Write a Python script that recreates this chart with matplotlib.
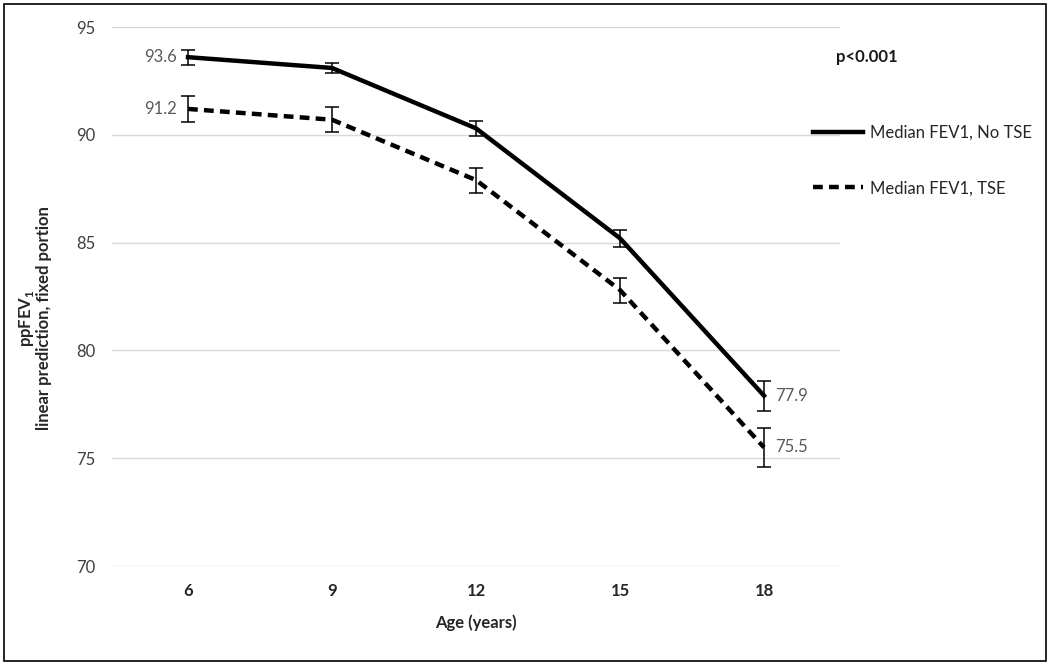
import matplotlib
matplotlib.use("Agg")
import matplotlib.pyplot as plt
from matplotlib.patches import Rectangle

ages = ["6", "9", "12", "15", "18"]
no_tse = [93.6, 93.1, 90.3, 85.2, 77.9]
no_tse_err = [0.35, 0.25, 0.35, 0.4, 0.7]
tse = [91.2, 90.7, 87.9, 82.8, 75.5]
tse_err = [0.62, 0.58, 0.58, 0.58, 0.9]
yticks = [70, 75, 80, 85, 90, 95]

plt.rcParams["font.family"] = ["Lato", "DejaVu Sans"]
plt.rcParams["mathtext.fontset"] = "custom"
plt.rcParams["mathtext.rm"] = "Lato:bold"
plt.rcParams["mathtext.bf"] = "Lato:bold"

fig = plt.figure(figsize=(10.5, 6.65), dpi=100)
ax = fig.add_axes([112 / 1050, 1 - 566 / 665, 728 / 1050, 539 / 665])
x = list(range(len(ages)))

ax.plot(x, no_tse, color="black", lw=3.2, solid_joinstyle="miter", label="Median FEV1, No TSE")
ax.plot(x, tse, color="black", lw=3.2, ls=(0, (2.2, 1.4)), label="Median FEV1, TSE")
ax.errorbar(x, no_tse, yerr=no_tse_err, fmt="none", ecolor="black", elinewidth=1.1, capsize=5, capthick=1.1)
ax.errorbar(x, tse, yerr=tse_err, fmt="none", ecolor="black", elinewidth=1.1, capsize=5, capthick=1.1)

tc = "#595959"
ax.text(x[0] - 0.08, no_tse[0], f"{no_tse[0]:.1f}", ha="right", va="center", fontsize=12, color=tc)
ax.text(x[0] - 0.08, tse[0], f"{tse[0]:.1f}", ha="right", va="center", fontsize=12, color=tc)
ax.text(x[-1] + 0.08, no_tse[-1], f"{no_tse[-1]:.1f}", ha="left", va="center", fontsize=12, color=tc)
ax.text(x[-1] + 0.08, tse[-1], f"{tse[-1]:.1f}", ha="left", va="center", fontsize=12, color=tc)

ax.set_xlim(-76 / 144, len(ages) - 1 + 76 / 144)
ax.set_ylim(70, 95)
ax.set_xticks(x)
ax.set_xticklabels(ages, fontweight="bold")
ax.set_yticks(yticks)
ax.tick_params(axis="x", length=0, labelsize=12, labelcolor="#262626", pad=12)
ax.tick_params(axis="y", length=0, labelsize=12, labelcolor="#404040", pad=12)
ax.grid(axis="y", color="#d9d9d9", lw=1)
ax.set_axisbelow(True)
for s in ax.spines.values():
    s.set_visible(False)
ax.set_xlabel("Age (years)", fontsize=12, fontweight="bold", color="#262626", labelpad=11)

fig.text(0.033, 0.522, "ppFEV$_{1}$\nlinear prediction, fixed portion", rotation=90,
         ha="center", va="center", fontsize=12, fontweight="bold", color="#262626",
         multialignment="center", linespacing=1.05)
fig.text(0.796, 0.914, "p<0.001", fontsize=12, fontweight="bold", color="#1a1a1a", va="center")

fig.legend(loc="upper left", bbox_to_anchor=(0.760, 0.8346), frameon=False,
           fontsize=12, handlelength=3.0, labelspacing=2.35, handletextpad=0.45,
           labelcolor="#262626")

fig.add_artist(Rectangle((0.004, 0.006), 0.992, 0.988, transform=fig.transFigure,
                         fill=False, ec="black", lw=1.2))
fig.savefig("out.png", dpi=100)
